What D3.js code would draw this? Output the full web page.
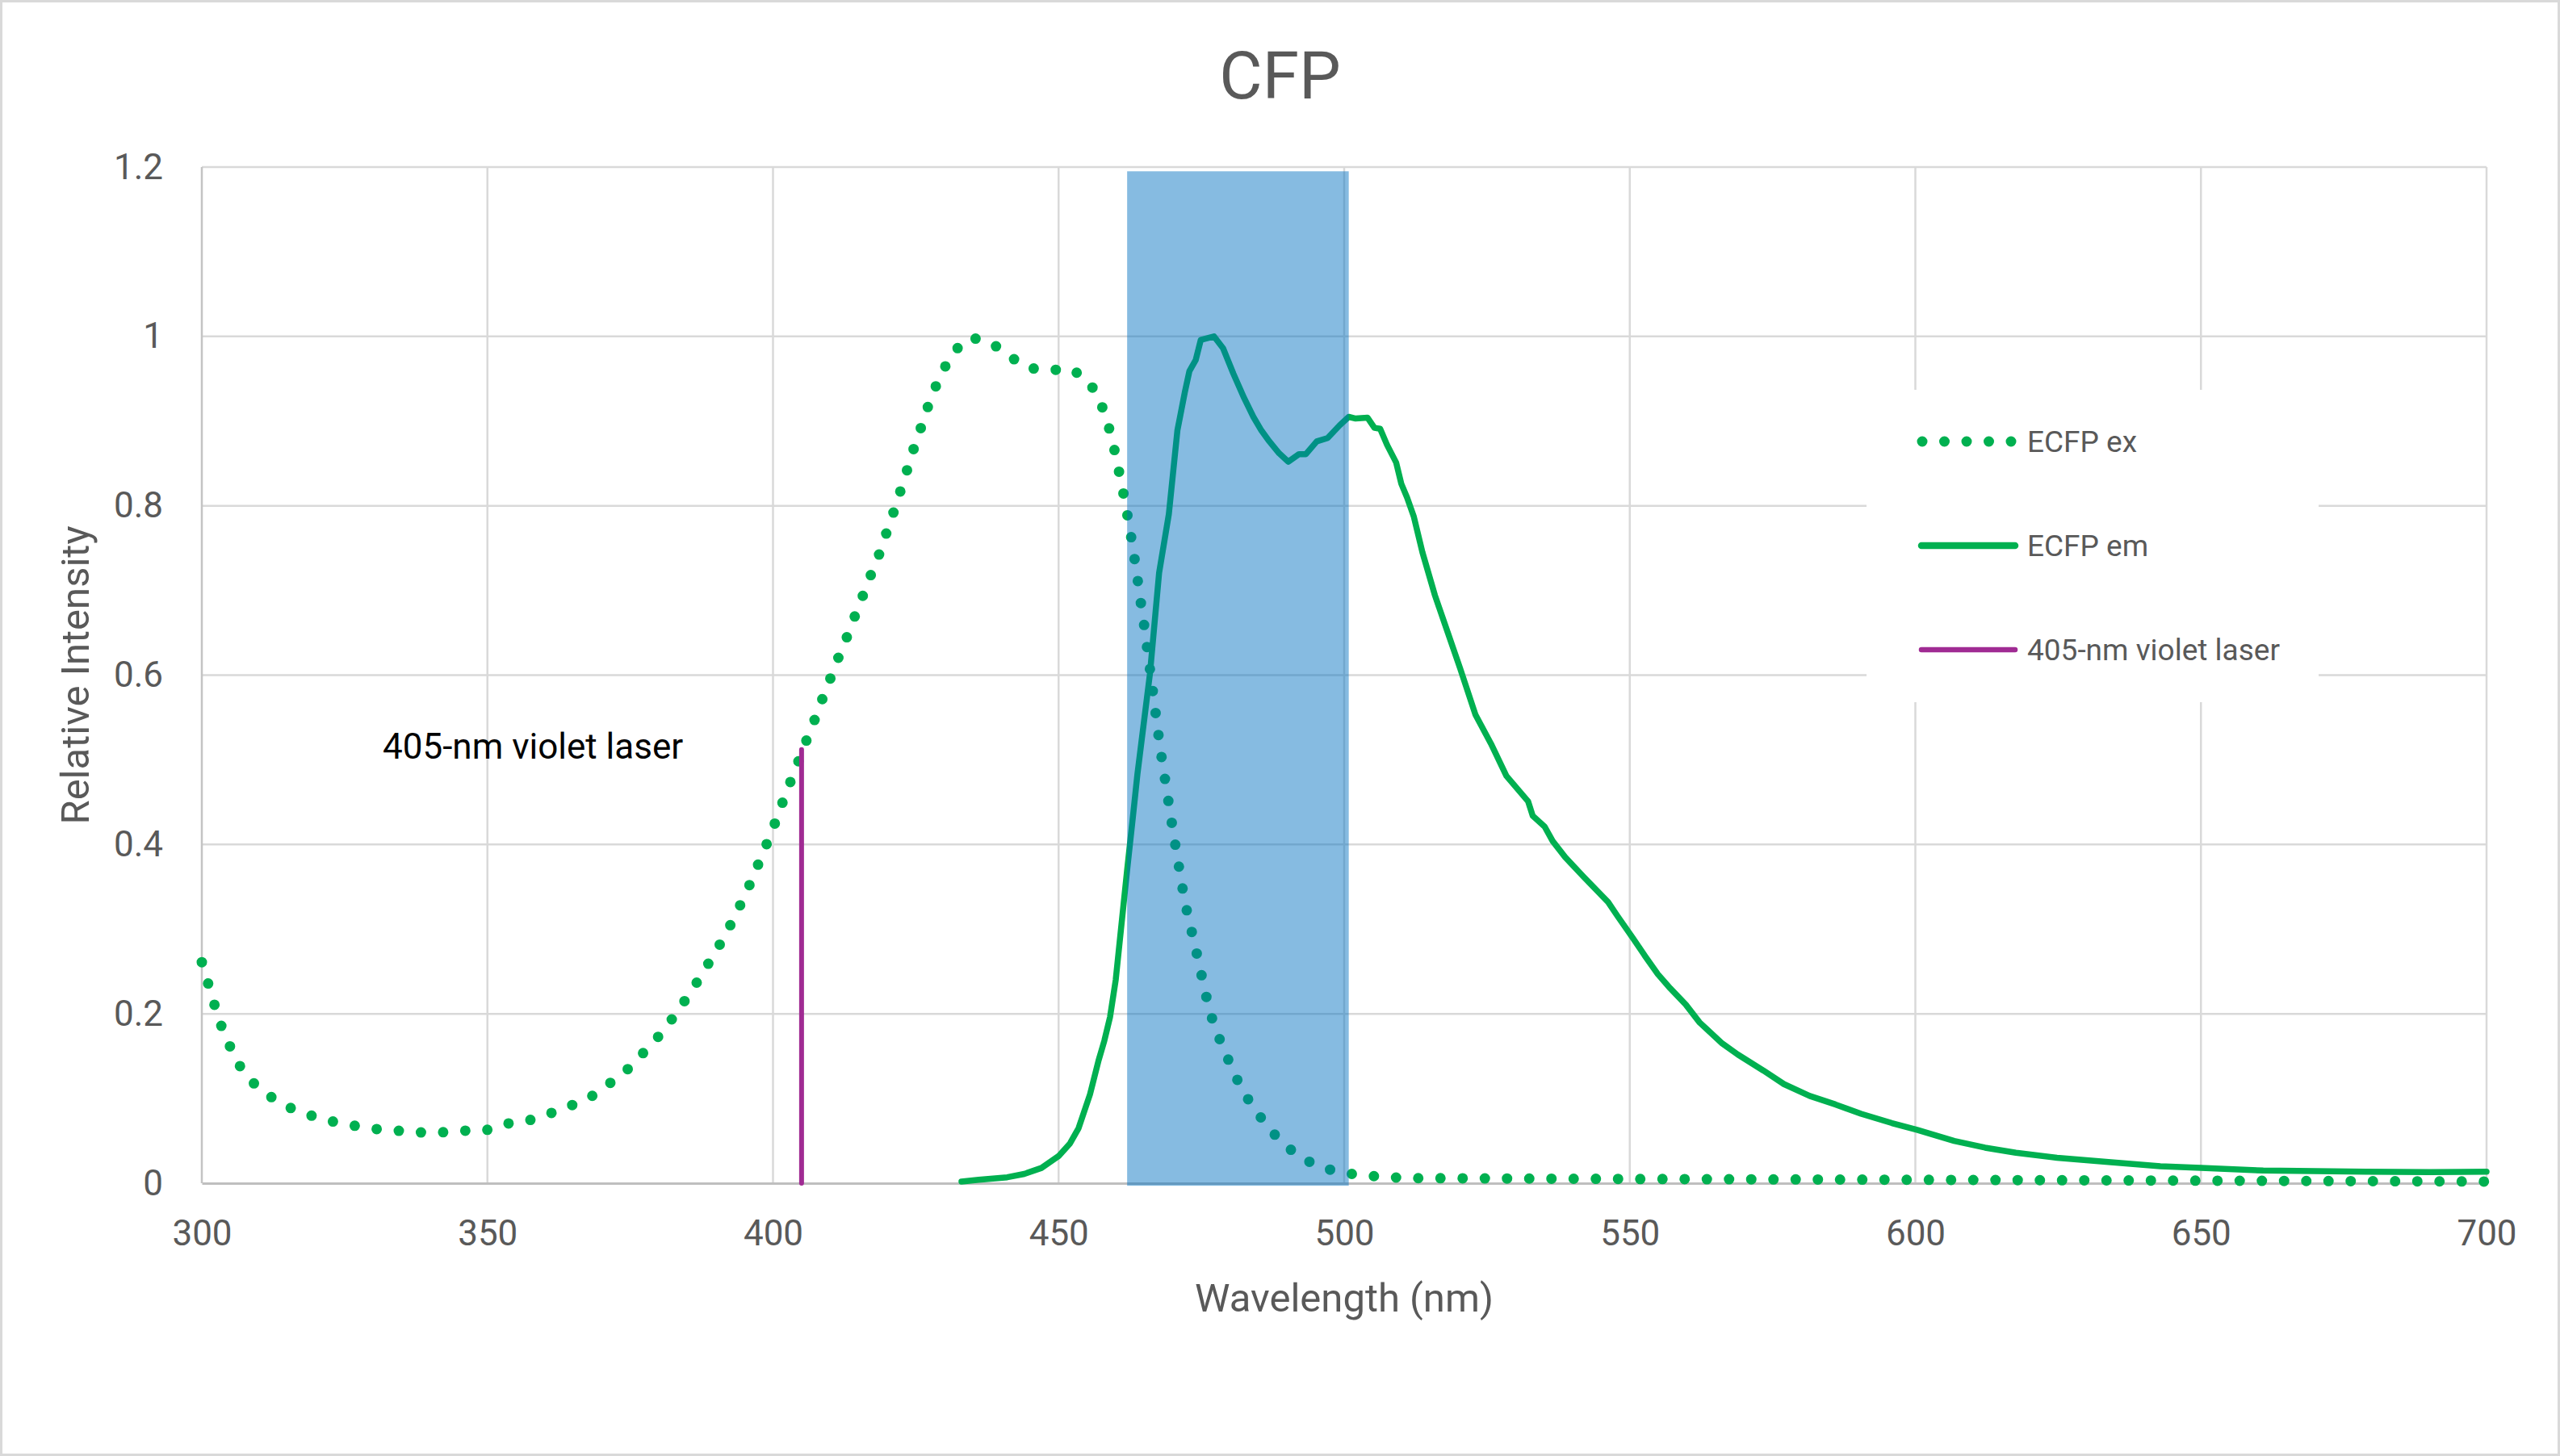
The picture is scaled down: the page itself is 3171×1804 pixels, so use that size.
<!DOCTYPE html>
<html>
<head>
<meta charset="utf-8">
<script src="https://cdn.jsdelivr.net/npm/d3@7"></script>
<style>
  body { margin: 0; background: #fff; }
  text { font-family: Roboto, "Liberation Sans", sans-serif; }
</style>
</head>
<body>
<script>
/*
CFP spectra: ECFP excitation / emission, 405-nm laser, detection band
*/

// ECFP excitation [wavelength nm, relative intensity]
var exData = [[300,0.261],[301.1,0.236],[302.2,0.211],[303.4,0.186],[304.9,0.162],[306.7,0.138],
  [309.1,0.118],[312.1,0.102],[315.5,0.089],[319.1,0.080],[322.8,0.073],[326.6,0.068],[330.4,0.064],
  [334.2,0.062],[338,0.060],[341.8,0.060],[345.6,0.062],[349.5,0.062],[353,0.070],[356.7,0.073],
  [360.4,0.081],[364,0.090],[367.7,0.100],[370.8,0.115],[373.9,0.130],[376.6,0.149],[379.3,0.168],
  [381.7,0.188],[384,0.210],[386.1,0.231],[388.2,0.254],[390.2,0.276],[392.1,0.299],[393.8,0.322],
  [395.5,0.346],[397,0.370],[398.5,0.394],[400,0.419],[401.3,0.443],[402.7,0.468],[404.1,0.492],
  [405.5,0.517],[407,0.542],[408.3,0.566],[409.7,0.590],[411.1,0.615],[412.6,0.639],[414,0.664],
  [415.4,0.688],[416.8,0.713],[418.3,0.737],[419.5,0.761],[420.8,0.786],[422,0.811],[423.2,0.836],
  [424.3,0.861],[425.6,0.886],[426.8,0.911],[428.1,0.935],[429.7,0.959],[431.6,0.982],[434.5,0.999],
  [438.1,0.993],[441.3,0.977],[444.5,0.963],[448.3,0.960],[452.1,0.962],[455.2,0.948],[457.2,0.925],
  [458.5,0.900],[459.5,0.875],[460.3,0.849],[461.1,0.824],[461.8,0.798],[462.5,0.772],[463.1,0.746],
  [463.7,0.720],[464.2,0.694],[464.8,0.668],[465.3,0.642],[465.8,0.617],[467.8,0.513],[470.2,0.409],
  [472.1,0.332],[473.9,0.280],[476.4,0.204],[477.7,0.178],[479.2,0.154],[480.7,0.130],[482.5,0.106],
  [484.6,0.085],[486.9,0.064],[489.6,0.045],[492.7,0.029],[496.3,0.018],[500,0.012],[503.9,0.009],
  [507.8,0.007],[511.6,0.006],[550,0.005],[600,0.004],[650,0.003],[700,0.002]];

// ECFP emission
var emData = [[433,0.002],[436,0.004],[441,0.007],[444,0.011],[447,0.018],[450,0.032],[452,0.047],
  [453.5,0.065],[455.5,0.105],[457,0.145],[458,0.168],[459,0.196],[460,0.240],[461,0.305],
  [462,0.370],[463,0.432],[463.8,0.483],[466,0.602],[467.6,0.721],[469.3,0.790],[470.8,0.889],
  [472.1,0.934],[472.9,0.959],
  [474,0.972],[474.9,0.996],[477.2,1.0],[478.8,0.986],[480.6,0.956],[482.5,0.927],[484.1,0.905],
  [485.5,0.889],[486.9,0.876],[488.6,0.862],[490.2,0.852],[492.1,0.861],[493.3,0.861],[495.2,0.876],
  [497.1,0.880],[499.2,0.895],[500.8,0.905],[502,0.903],[504.1,0.904],[505.3,0.892],[506.3,0.891],
  [507.5,0.872],[509.1,0.851],[510,0.826],[511,0.810],[512.2,0.787],[513.7,0.745],[515.9,0.694],
  [518.1,0.651],[520.3,0.608],[523,0.553],[525.7,0.519],[528.4,0.481],[532.2,0.451],[533,0.434],
  [535.1,0.421],[536.5,0.404],[538.7,0.385],[541.9,0.362],[546.2,0.332],[547.9,0.315],[550.6,0.289],
  [552.7,0.268],[554.9,0.247],[557.1,0.230],[559.8,0.211],[562.2,0.190],[566.2,0.165],[568.9,0.152],
  [573.4,0.133],[577,0.117],[581.5,0.103],[586,0.093],[590.5,0.082],[595.9,0.071],[600.3,0.063],
  [606.8,0.050],[612.2,0.042],[617.6,0.036],[624.8,0.030],[633.8,0.025],[642.9,0.020],[650,0.018],
  [660.9,0.015],[678.9,0.0137],[690,0.013],[700,0.0137]];

// 405-nm laser line
var laserData = [[405,0],[405,0.512]];

// detection band (nm, intensity range)
var bandX = [462, 500.8];
var bandY = [-0.003, 1.195];

var xTicks = [300,350,400,450,500,550,600,650,700];
var yTicks = [0,0.2,0.4,0.6,0.8,1,1.2];
var legendNames = ["ECFP ex", "ECFP em", "405-nm violet laser"];

var width = 3171;
var height = 1804;
var margin = { top: 207, left: 250, right: 91, bottom: 338 };

var green = "#00B050", purple = "#A02B93", grey = "#595959";

var xScale = d3.scaleLinear()
        .domain([300,700])
        .range([margin.left, width-margin.right]);

var yScale = d3.scaleLinear()
        .domain([0,1.2])
        .range([height-margin.bottom, margin.top]);

var valueline = d3.line()
        .x(function(d) { return xScale(d[0]); })
        .y(function(d) { return yScale(d[1]); });

var svg = d3.select("body")
      .append("svg")
      .attr("width", width)
      .attr("height", height);

// chart border
svg.append("rect")
  .attr("x", 1.5).attr("y", 1.5)
  .attr("width", width-3).attr("height", height-3)
  .attr("fill", "#fff")
  .attr("stroke", "#d9d9d9").attr("stroke-width", 3);

// gridlines
svg.append("g").selectAll("line").data(yTicks.slice(1)).enter().append("line")
  .attr("x1", xScale(300)).attr("x2", xScale(700))
  .attr("y1", function(d){ return yScale(d); }).attr("y2", function(d){ return yScale(d); })
  .attr("stroke", "#d9d9d9").attr("stroke-width", 2.5);
svg.append("g").selectAll("line").data(xTicks.slice(1)).enter().append("line")
  .attr("x1", function(d){ return xScale(d); }).attr("x2", function(d){ return xScale(d); })
  .attr("y1", yScale(1.2)).attr("y2", yScale(0))
  .attr("stroke", "#d9d9d9").attr("stroke-width", 2.5);

// axis lines
svg.append("line")
  .attr("x1", xScale(300)).attr("x2", xScale(300))
  .attr("y1", yScale(1.2)).attr("y2", yScale(0))
  .attr("stroke", "#c4c4c4").attr("stroke-width", 2.5);

var xAxis = svg.append("g")
        .attr("transform", `translate(0,${yScale(0)})`)
        .call(d3.axisBottom(xScale).tickValues(xTicks).tickSize(0).tickPadding(46));
xAxis.select(".domain").attr("stroke", "#bfbfbf").attr("stroke-width", 3);
xAxis.selectAll("text").style("font-size", "44px").attr("fill", grey);

var yAxis = svg.append("g")
        .attr("transform", `translate(${margin.left},0)`)
        .call(d3.axisLeft(yScale).tickValues(yTicks).tickSize(0).tickPadding(48)
              .tickFormat(function(d){ return String(+d.toFixed(1)); }));
yAxis.select(".domain").remove();
yAxis.selectAll("text").style("font-size", "44px").attr("fill", grey);

// series
svg.append("path")
  .datum(exData)
  .attr("d", valueline)
  .attr("fill", "none")
  .attr("stroke", green).attr("stroke-width", 13)
  .attr("stroke-linecap", "round")
  .attr("stroke-dasharray", "0 27.5");

svg.append("path")
  .datum(emData)
  .attr("d", valueline)
  .attr("fill", "none")
  .attr("stroke", green).attr("stroke-width", 7.5)
  .attr("stroke-linejoin", "round").attr("stroke-linecap", "round");

svg.append("path")
  .datum(laserData)
  .attr("d", valueline)
  .attr("fill", "none")
  .attr("stroke", purple).attr("stroke-width", 6)
  .attr("stroke-linecap", "round");

// detection band
svg.append("rect")
  .attr("x", xScale(bandX[0]))
  .attr("width", xScale(bandX[1]) - xScale(bandX[0]))
  .attr("y", yScale(bandY[1]))
  .attr("height", yScale(bandY[0]) - yScale(bandY[1]))
  .attr("fill", "#0070C0").attr("fill-opacity", 0.475);

// title + axis titles
svg.append("text")
  .attr("x", width/2).attr("y", 122)
  .attr("text-anchor", "middle")
  .style("font-size", "82px").attr("fill", grey)
  .text("CFP");

svg.append("text")
  .attr("x", (xScale(300)+xScale(700))/2).attr("y", 1625)
  .attr("text-anchor", "middle")
  .style("font-size", "49px").attr("fill", grey)
  .text("Wavelength (nm)");

svg.append("text")
  .attr("text-anchor", "middle")
  .attr("transform", "translate(110," + ((yScale(0)+yScale(1.2))/2) + ")rotate(-90)")
  .style("font-size", "49px").attr("fill", grey)
  .text("Relative Intensity");

// annotation
svg.append("text")
  .attr("x", 474).attr("y", 940)
  .style("font-size", "44px").attr("fill", "#000")
  .text("405-nm violet laser");

// legend
var legend = svg.append("g");
legend.append("rect")
  .attr("x", 2312).attr("y", 483).attr("width", 560).attr("height", 387)
  .attr("fill", "#fff");

var legY = [547, 676, 805];
legend.append("line")
  .attr("x1", 2381).attr("x2", 2493).attr("y1", legY[0]).attr("y2", legY[0])
  .attr("stroke", green).attr("stroke-width", 13)
  .attr("stroke-linecap", "round").attr("stroke-dasharray", "0 27.5");
legend.append("line")
  .attr("x1", 2380).attr("x2", 2496).attr("y1", legY[1]).attr("y2", legY[1])
  .attr("stroke", green).attr("stroke-width", 8.5).attr("stroke-linecap", "round");
legend.append("line")
  .attr("x1", 2380).attr("x2", 2496).attr("y1", legY[2]).attr("y2", legY[2])
  .attr("stroke", purple).attr("stroke-width", 6.5).attr("stroke-linecap", "round");

legend.selectAll("text").data(legendNames).enter().append("text")
  .attr("x", 2511)
  .attr("y", function(d, i){ return legY[i] + 13; })
  .style("font-size", "37px").attr("fill", grey)
  .text(function(d){ return d; });
</script>
</body>
</html>
